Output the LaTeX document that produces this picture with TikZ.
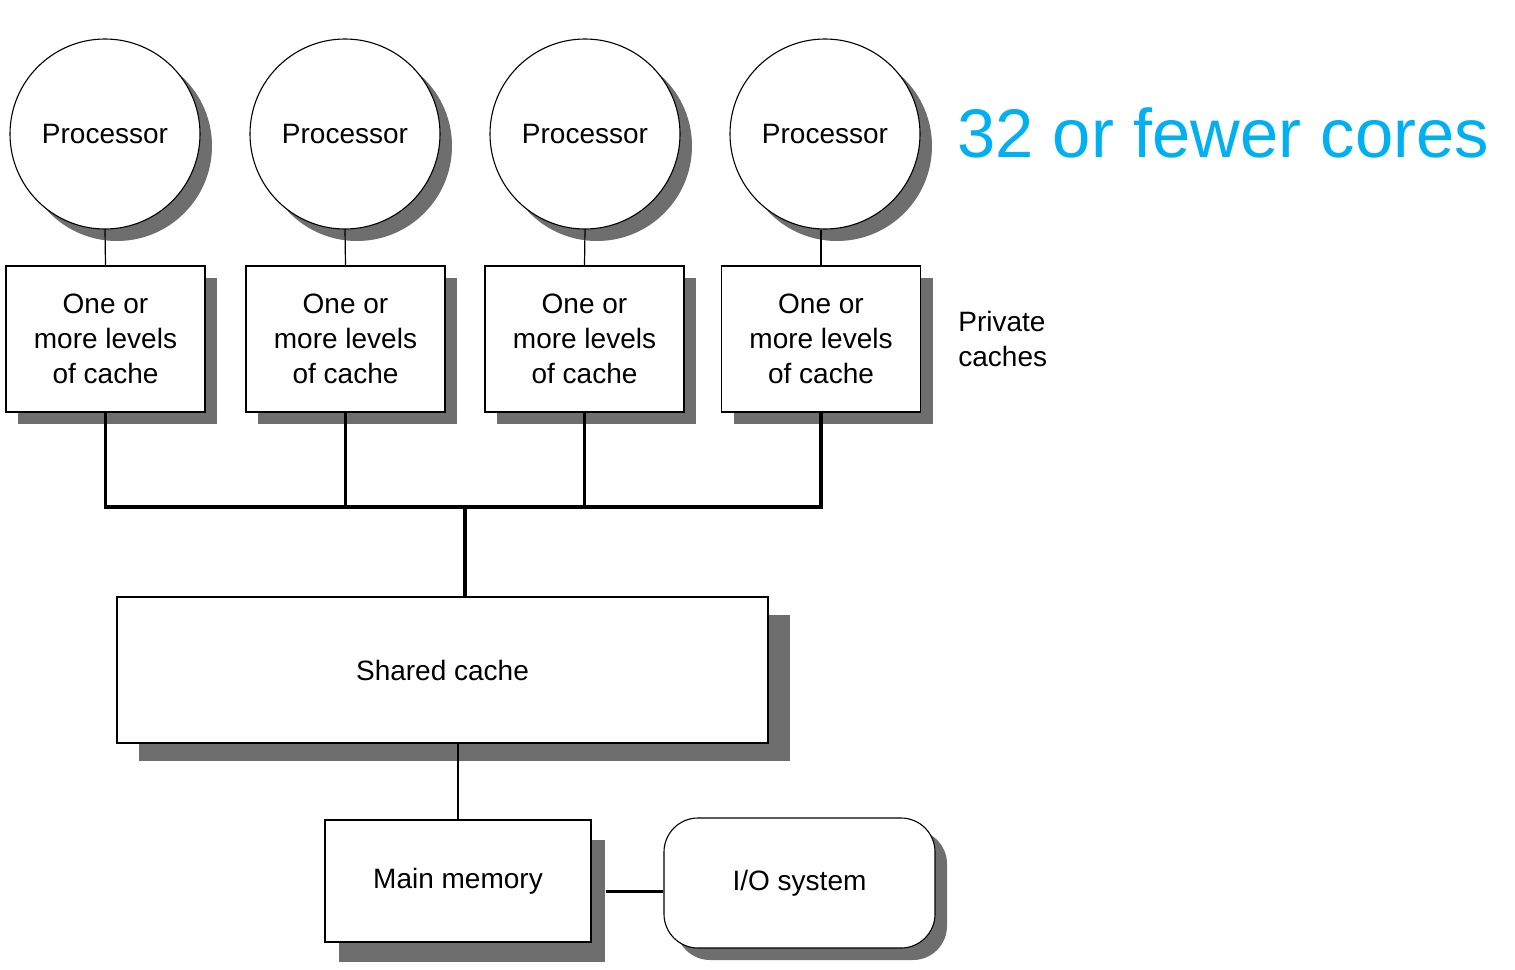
\documentclass[tikz,border=0pt]{standalone}
\usepackage{fontspec}
\setmainfont{Liberation Sans}
\usetikzlibrary{shadows,calc}
\definecolor{shadowgray}{HTML}{6E6E6E}
\definecolor{corecyan}{HTML}{00B0F0}
\begin{document}
\begin{tikzpicture}[x=0.5pt,y=-0.5pt,
  txt/.style={font=\fontsize{14}{17.5}\selectfont},
  shad/.style={drop shadow={shadow xshift=#1,shadow yshift=-#1,fill=shadowgray,opacity=1}},
  proc/.style={circle,draw,line width=0.55pt,fill=white,minimum size=95pt,inner sep=0pt,txt,shad=6pt},
  cachebox/.style={rectangle,draw,line width=0.55pt,fill=white,minimum width=99.5pt,minimum height=73pt,inner sep=0pt,align=center,txt,shad=6pt},
  thin/.style={line width=0.6pt},
  bus/.style={line width=1.6pt}]
\useasboundingbox (0,0) rectangle (1515,969);
% processors
\node[proc] (p1) at (105,134) {Processor};
\node[proc] (p2) at (345,134) {Processor};
\node[proc] (p3) at (585,134) {Processor};
\node[proc] (p4) at (825,134) {Processor};
% private caches
\node[cachebox] (c1) at (105.5,339) {One or\\more levels\\of cache};
\node[cachebox] (c2) at (345.5,339) {One or\\more levels\\of cache};
\node[cachebox] (c3) at (584.5,339) {One or\\more levels\\of cache};
\node[cachebox] (c4) at (821,339) {One or\\more levels\\of cache};
% shared cache
\node[rectangle,draw,line width=0.55pt,fill=white,minimum width=325.5pt,minimum height=73pt,txt,
  drop shadow={shadow xshift=11pt,shadow yshift=-9pt,fill=shadowgray,opacity=1}] (sc) at (442.5,670) {Shared cache};
% main memory
\node[rectangle,draw,line width=0.55pt,fill=white,minimum width=133pt,minimum height=61pt,txt,
  drop shadow={shadow xshift=7pt,shadow yshift=-10pt,fill=shadowgray,opacity=1}] (mem) at (458,881) {Main memory};
% I/O
\node[rectangle,rounded corners=17pt,draw,line width=0.55pt,fill=white,minimum width=135.5pt,minimum height=65pt,txt,shad=6pt] (io) at (799.5,883) {I/O system};
% labels
\node[anchor=west,inner sep=0pt,text=corecyan,font=\fontsize{34.4}{40}\selectfont] (cores) at (957,133) {32 or fewer cores};
\node[anchor=west,inner sep=0pt,align=left,txt] (priv) at (958,339) {Private\\caches};
% connectors
\draw[thin] (p1.south) -- (c1.north);
\draw[thin] (p2.south) -- (c2.north);
\draw[thin] (p3.south) -- (c3.north);
\draw[thin] (c4.north) -- (c4.north |- p4.south);
\coordinate (bl) at (105.5,507);
\coordinate (br) at (821,507);
\coordinate (bm) at (465,507);
\draw[bus] (c1.south) -- (bl) -- (br) -- (c4.south);
\draw[bus] (c2.south) -- (c2.south |- bl);
\draw[bus] (c3.south) -- (c3.south |- bl);
\draw[bus] (bm) -- (bm |- sc.north);
\draw[line width=1.1pt] (sc.south -| mem.north) -- (mem.north);
\coordinate (m1) at ($(mem.east)+(14,10)$);
\draw[line width=1.5pt] (m1) -- (m1 -| io.west);
\end{tikzpicture}
\end{document}
